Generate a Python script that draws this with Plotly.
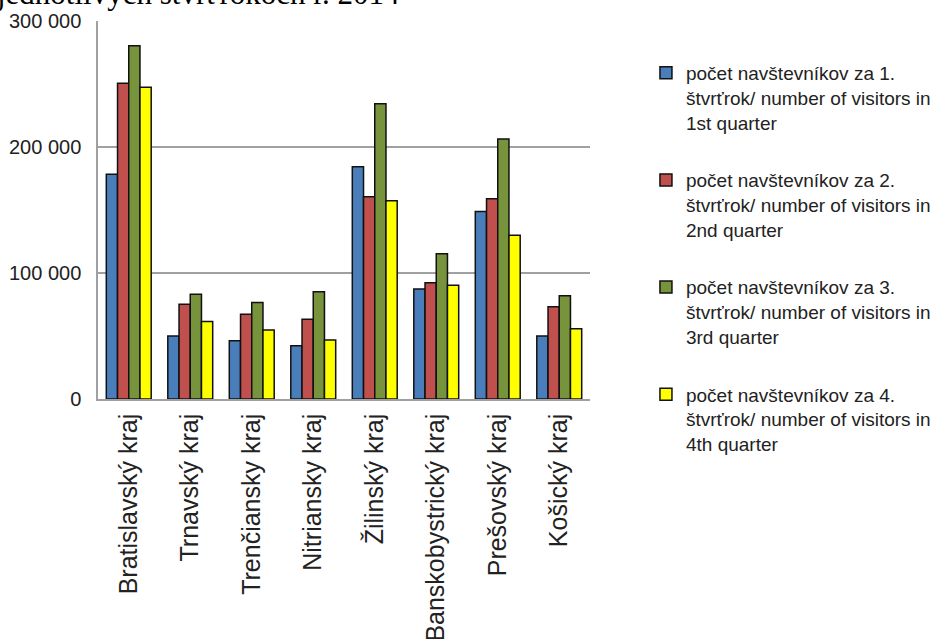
# grouped bar chart - visitors per region and quarter, 2014
import plotly.graph_objs as go

# data
regions = ['Bratislavský kraj', 'Trnavský kraj', 'Trenčiansky kraj', 'Nitriansky kraj',
           'Žilinský kraj', 'Banskobystrický kraj', 'Prešovský kraj', 'Košický kraj']

q1 = [178300, 50000, 46300, 42300, 184400, 87300, 148900, 50000]
q2 = [250500, 75100, 67200, 63200, 160600, 92300, 159000, 73300]
q3 = [280400, 83100, 76500, 85200, 234400, 115300, 206300, 82000]
q4 = [247400, 61600, 54800, 46800, 157400, 90200, 129900, 55800]

names = ['počet navštevníkov za 1.<br>štvrťrok/ number of visitors in<br>1st quarter',
         'počet navštevníkov za 2.<br>štvrťrok/ number of visitors in<br>2nd quarter',
         'počet navštevníkov za 3.<br>štvrťrok/ number of visitors in<br>3rd quarter',
         'počet navštevníkov za 4.<br>štvrťrok/ number of visitors in<br>4th quarter']

colors = ['#4a7ebb', '#c0504d', '#77933c', '#ffff00']

yticks = [0, 100000, 200000, 300000]

title_text = 'jednotlivých štvrťrokoch r. 2014'

# one trace per quarter
data = []
for i, vals in enumerate([q1, q2, q3, q4]):
    data.append(go.Bar(x=regions, y=vals, name=names[i],
                       legendgroup=str(i),
                       marker=dict(color=colors[i],
                                   line=dict(color='#111111', width=1.5))))

layout = go.Layout(
    width=943, height=639,
    margin=dict(l=98, r=353, t=21, b=240),
    paper_bgcolor='white', plot_bgcolor='white',
    font=dict(family='Liberation Sans, Arial', color='#222222'),
    separators=', ',
    barmode='group', bargap=0.27, bargroupgap=0,
    xaxis=dict(tickangle=-90, tickfont=dict(size=25),
               showline=True, linecolor='#a0a0a0', linewidth=1.5,
               ticks='', ticklabelstandoff=3, automargin=False),
    yaxis=dict(range=[0, 300000], tickvals=yticks, tickformat=',.0f',
               tickfont=dict(size=20),
               showgrid=True, gridcolor='#a0a0a0', gridwidth=1.5,
               showline=True, linecolor='#a0a0a0', linewidth=1.5,
               zeroline=False, ticks='', ticklabelstandoff=11, automargin=False),
    legend=dict(xref='container', yref='container',
                x=0.685, y=0.9155, xanchor='left', yanchor='top',
                font=dict(size=19, color='#222222'), maxheight=560,
                traceorder='grouped', tracegroupgap=30, valign='top'),
    annotations=[dict(text=title_text, xref='paper', yref='paper',
                      x=-0.212, y=1.073, xanchor='left', yanchor='middle',
                      showarrow=False,
                      font=dict(family='Liberation Serif', size=31, color='black'))]
)

fig = go.Figure(data=data, layout=layout)
# drop the default page margin so the figure sits at the top-left corner
fig.write_html('out.html', config={'displayModeBar': False},
               post_script="document.body.style.margin='0';")
